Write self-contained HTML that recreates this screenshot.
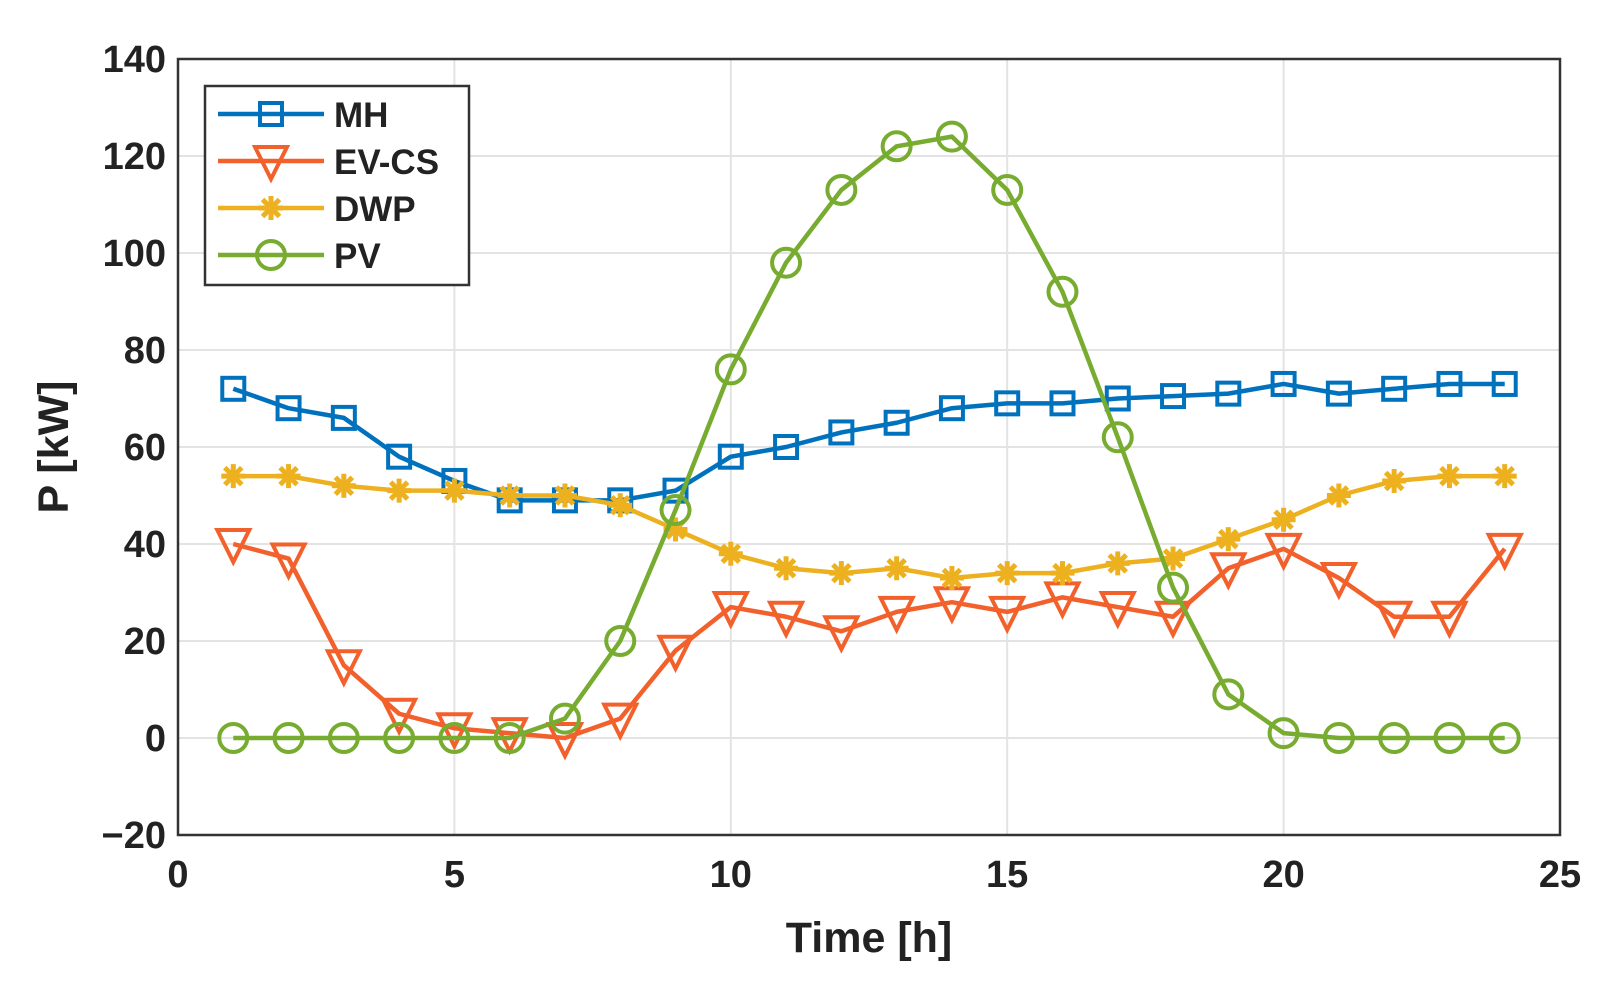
<!DOCTYPE html>
<html><head><meta charset="utf-8"><style>
html,body{margin:0;padding:0;background:#fff;}
svg{display:block;font-family:"Liberation Sans",Arial,sans-serif;font-weight:bold;}
</style></head><body>
<svg id="chart" width="1617" height="1000" viewBox="0 0 1617 1000" xmlns="http://www.w3.org/2000/svg">
<g id="grid"></g>
<g id="axes"></g>
<g id="series"></g>
<g id="legend"></g>
</svg>
<script>
const hours=[1,2,3,4,5,6,7,8,9,10,11,12,13,14,15,16,17,18,19,20,21,22,23,24];
const mhValues=[72,68,66,58,53,49,49,49,51,58,60,63,65,68,69,69,70,70.5,71,73,71,72,73,73];
const evcsValues=[40,37,15,5,2,1,0,4,18,27,25,22,26,28,26,29,27,25,35,39,33,25,25,39];
const dwpValues=[54,54,52,51,51,50,50,48,43,38,35,34,35,33,34,34,36,37,41,45,50,53,54,54];
const pvValues=[0,0,0,0,0,0,4,20,47,76,98,113,122,124,113,92,62,31,9,1,0,0,0,0];
const xTicks=[0,5,10,15,20,25];
const yTicks=[-20,0,20,40,60,80,100,120,140];
const seriesNames=["MH","EV-CS","DWP","PV"];

const L=178,R=1560,T=59,B=835;
const X=v=>L+(v-0)/25*(R-L);
const Y=v=>B-(v+20)/160*(B-T);
const NS="http://www.w3.org/2000/svg";
function mk(tag,attrs,parent){const e=document.createElementNS(NS,tag);for(const k in attrs)e.setAttribute(k,attrs[k]);parent.appendChild(e);return e;}
const grid=document.getElementById('grid'),axes=document.getElementById('axes'),ser=document.getElementById('series'),leg=document.getElementById('legend');

xTicks.forEach(t=>{
  let g=mk('line',{x1:X(t),x2:X(t),y1:T,y2:B,stroke:'#e3e3e3','stroke-width':2},grid);
  
  
  let tk=mk('text',{x:X(t),y:B+52,'text-anchor':'middle','font-size':38,fill:'#222'},axes);
  tk.textContent=t;
  
  
});
yTicks.forEach(t=>{
  let g=mk('line',{x1:L,x2:R,y1:Y(t),y2:Y(t),stroke:'#e3e3e3','stroke-width':2},grid);
  
  
  let tk=mk('text',{x:L-12,y:Y(t)+13,'text-anchor':'end','font-size':38,fill:'#222'},axes);
  tk.textContent=t<0?'\u2212'+(-t):t;
  
  
});
let box=mk('rect',{x:L,y:T,width:R-L,height:B-T,fill:'none',stroke:'#333','stroke-width':2.5},axes);


let xt=mk('text',{x:(L+R)/2,y:952,'text-anchor':'middle','font-size':43,fill:'#222'},axes);
xt.textContent='Time [h]';


let yt=mk('text',{x:0,y:0,'text-anchor':'middle','font-size':43,fill:'#222',transform:`translate(68,${(T+B)/2}) rotate(-90)`},axes);
yt.textContent='P [kW]';



function marker(type,cx,cy,color,parent){
  let m;
  if(type==='sq') m=mk('rect',{x:cx-11,y:cy-11,width:22,height:22,fill:'none',stroke:color,'stroke-width':4},parent);
  else if(type==='tri') m=mk('polygon',{points:`${cx-16},${cy-14} ${cx+16},${cy-14} ${cx},${cy+18}`,fill:'none',stroke:color,'stroke-width':4},parent);
  else if(type==='circ') m=mk('circle',{cx:cx,cy:cy,r:14,fill:'none',stroke:color,'stroke-width':4},parent);
  else { m=mk('g',{},parent);
    for(let a=0;a<4;a++){const an=a*Math.PI/4;mk('line',{x1:cx-12*Math.cos(an),y1:cy-12*Math.sin(an),x2:cx+12*Math.cos(an),y2:cy+12*Math.sin(an),stroke:color,'stroke-width':5},m);} }
  return m;
}
const defs=[[mhValues,'#0072BD','sq','mh'],[evcsValues,'#F2602B','tri','ev-cs'],[dwpValues,'#EDB120','star','dwp'],[pvValues,'#77AC30','circ','pv']];
defs.forEach(([vals,color,mt,name])=>{
  const g=mk('g',{},ser);
  
  
  const ln=mk('polyline',{points:vals.map((v,i)=>X(hours[i])+','+Y(v)).join(' '),fill:'none',stroke:color,'stroke-width':4.5,'stroke-linejoin':'round'},g);
  
  
  vals.forEach((v,i)=>{const m=marker(mt,X(hours[i]),Y(v),color,g);
    
    });
});
const lb=mk('rect',{x:205,y:86,width:264,height:199,fill:'#fff',stroke:'#333','stroke-width':2.5},leg);


defs.forEach(([v,color,mt,name],i)=>{
  const cy=114+i*47;
  const g=mk('g',{},leg);
  
  
  mk('line',{x1:218,x2:324,y1:cy,y2:cy,stroke:color,'stroke-width':4.5},g);
  marker(mt,271,cy,color,g);
  const t=mk('text',{x:334,y:cy+13,'font-size':35,fill:'#222'},g);
  t.textContent=seriesNames[i];
});
</script>
</body></html>
